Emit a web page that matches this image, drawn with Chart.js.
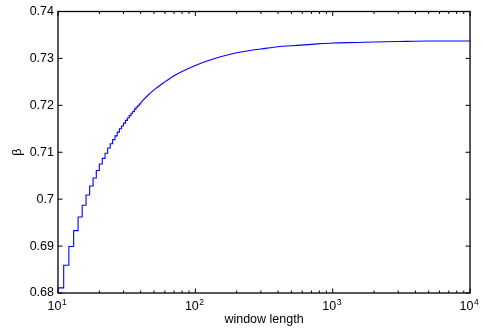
<!DOCTYPE html>
<html>
<head>
<meta charset="utf-8">
<script src="https://cdn.jsdelivr.net/npm/chart.js@4.4.0/dist/chart.umd.min.js"></script>
<style>
	body { margin: 0; background: #fff; }
	canvas { display: block; }
</style>
</head>
<body>
<canvas id="grafico" width="483" height="331"></canvas>
<script>
// janelas pequenas: um degrau por inteiro
const windowLength = [10, 11, 12, 13, 14, 15, 16, 17, 18, 19, 20, 21, 22, 23, 24, 25, 26, 27, 28, 29, 30, 31, 32, 33, 34, 35, 36, 37, 38, 39, 40]
const betaSteps = [0.6811, 0.6859, 0.6899, 0.6933, 0.6962, 0.6987, 0.7009, 0.7028, 0.7045, 0.7061, 0.7075, 0.7087, 0.7098, 0.7109, 0.7118, 0.7127, 0.7135, 0.7143, 0.7150, 0.7156, 0.7162, 0.7168, 0.7173, 0.7178, 0.7183, 0.7187, 0.7192, 0.7196, 0.7199, 0.7203, 0.7206]

// janelas grandes: degraus menores que um pixel
const windowLengthTail = [40, 45, 50, 60, 70, 80, 100, 130, 160, 200, 250, 300, 400, 500, 700, 1000, 1500, 2000, 3000, 5000, 10000]
const betaTail = [0.7206, 0.7221, 0.7233, 0.7250, 0.7263, 0.7272, 0.7285, 0.7297, 0.7305, 0.7312, 0.7317, 0.7320, 0.7325, 0.7327, 0.7330, 0.7333, 0.7334, 0.7335, 0.7336, 0.7337, 0.7337]

const yTicks = [0.68, 0.69, 0.70, 0.71, 0.72, 0.73, 0.74]
const xDecades = [10, 100, 1000, 10000]
const minorMultipliers = [2, 3, 4, 5, 6, 7, 8, 9]

const FONTE = '"Liberation Sans", Arial, Helvetica, sans-serif'
const AZUL = "#0000ff"

var pontos = function (xs, ys) {
	return xs.map((x, i) => ({ x: x, y: ys[i] }))
}

// caixa fechada e ticks para dentro, estilo matlab
var caixaTicks = {
	id: "caixaTicks",
	afterDraw(chart) {
		var ctx = chart.ctx
		var a = chart.chartArea
		var sx = chart.scales.x
		var sy = chart.scales.y
		ctx.save()
		ctx.strokeStyle = "#000"
		ctx.lineWidth = 1
		ctx.beginPath()
		for (const v of yTicks) {
			let p = sy.getPixelForValue(v)
			ctx.moveTo(a.left, p); ctx.lineTo(a.left + 4.5, p)
			ctx.moveTo(a.right, p); ctx.lineTo(a.right - 4.5, p)
		}
		for (const v of xDecades) {
			let p = sx.getPixelForValue(v)
			ctx.moveTo(p, a.bottom); ctx.lineTo(p, a.bottom - 4.5)
			ctx.moveTo(p, a.top); ctx.lineTo(p, a.top + 4.5)
		}
		for (const d of xDecades.slice(0, -1)) {
			for (const m of minorMultipliers) {
				let p = sx.getPixelForValue(d * m)
				ctx.moveTo(p, a.bottom); ctx.lineTo(p, a.bottom - 2.5)
				ctx.moveTo(p, a.top); ctx.lineTo(p, a.top + 2.5)
			}
		}
		ctx.stroke()
		ctx.lineWidth = 1.3
		ctx.strokeRect(a.left, a.top, a.right - a.left, a.bottom - a.top)

		// expoentes dos rotulos 10^n
		ctx.fillStyle = "#000"
		ctx.font = "8.5px " + FONTE
		ctx.textAlign = "left"
		ctx.textBaseline = "top"
		for (const v of xDecades) {
			let p = sx.getPixelForValue(v)
			ctx.fillText(String(Math.round(Math.log10(v))), p + 4, a.bottom + 5)
		}
		ctx.restore()
	}
}

var grafico = new Chart(document.getElementById("grafico"), {
	type: "line",
	data: {
		datasets: [
			{
				data: pontos(windowLength, betaSteps),
				stepped: "before",
				borderColor: AZUL,
				borderWidth: 1.1,
				pointRadius: 0,
				fill: false
			},
			{
				data: pontos(windowLengthTail, betaTail),
				cubicInterpolationMode: "monotone",
				borderColor: AZUL,
				borderWidth: 1.1,
				pointRadius: 0,
				fill: false
			}
		]
	},
	options: {
		responsive: false,
		animation: false,
		devicePixelRatio: 1,
		layout: { padding: { top: 9, right: 9, left: 0, bottom: 0 } },
		plugins: {
			legend: { display: false },
			tooltip: { enabled: false }
		},
		scales: {
			x: {
				type: "logarithmic",
				min: 10,
				max: 10000,
				afterBuildTicks: (s) => { s.ticks = xDecades.map(v => ({ value: v })) },
				afterFit: (s) => { s.height = 38 },
				grid: { drawOnChartArea: false, drawTicks: false },
				border: { display: false },
				ticks: {
					callback: () => "10",
					color: "#000",
					font: { family: FONTE, size: 12.5 },
					padding: 6,
					labelOffset: -3.5,
					maxRotation: 0,
					autoSkip: false
				},
				title: {
					display: true,
					text: "window length",
					color: "#000",
					font: { family: FONTE, size: 12.5 },
					padding: { top: 0, bottom: 4 }
				}
			},
			y: {
				min: 0.68,
				max: 0.74,
				afterBuildTicks: (s) => { s.ticks = yTicks.map(v => ({ value: v })) },
				afterFit: (s) => { s.width = 58 },
				grid: { drawOnChartArea: false, drawTicks: false },
				border: { display: false },
				ticks: {
					callback: (v) => String(+v.toFixed(2)),
					color: "#000",
					font: { family: FONTE, size: 12.5 },
					padding: 4
				},
				title: {
					display: true,
					text: "β",
					color: "#000",
					font: { family: FONTE, size: 12.5 },
					padding: { top: 10, bottom: 0 }
				}
			}
		}
	},
	plugins: [caixaTicks]
})
</script>
</body>
</html>
